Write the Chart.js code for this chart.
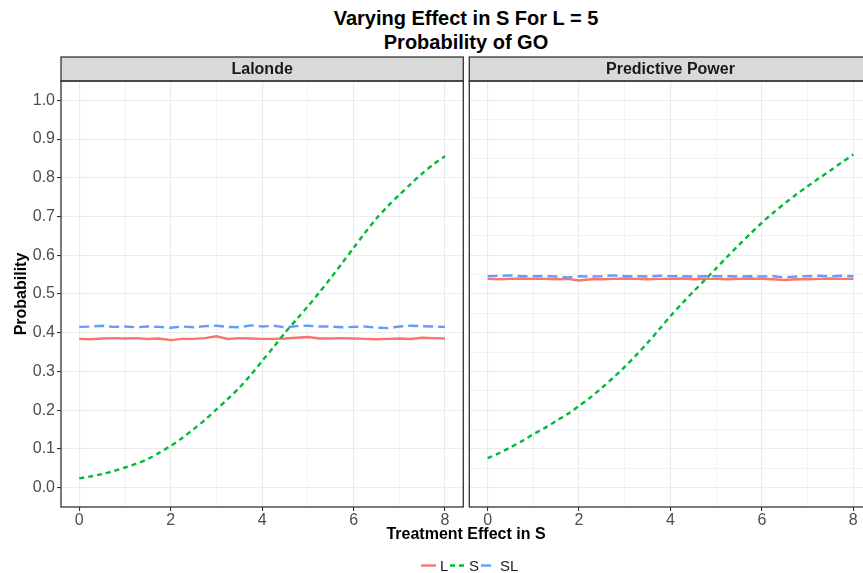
<!DOCTYPE html>
<html>
<head>
<meta charset="utf-8">
<script src="https://cdn.jsdelivr.net/npm/chart.js@4.4.0/dist/chart.umd.min.js"></script>
<style>
  body { margin: 0; background: #fff; }
  #wrap { position: relative; width: 863px; height: 573px; overflow: hidden; font-family: "Liberation Sans", Arial, sans-serif; }
  canvas { position: absolute; top: 0; }
  #left { left: 0; }
  #right { left: 466px; }
  .title { position: absolute; left: 216px; width: 500px; text-align: center; font-weight: bold; font-size: 20px; line-height: 24px; color: #000; }
  .xtitle { position: absolute; left: 316px; width: 300px; top: 524px; text-align: center; font-weight: bold; font-size: 16px; line-height: 20px; color: #000; }
  .ytitle { position: absolute; left: -79px; width: 200px; top: 284px; text-align: center; font-weight: bold; font-size: 16px; line-height: 20px; color: #000; transform: rotate(-90deg); }
  #legend { position: absolute; left: 0; top: 540px; }
</style>
</head>
<body>
<div id="wrap">
  <div class="title" style="top:6px">Varying Effect in S For L = 5</div>
  <div class="title" style="top:30px">Probability of GO</div>
  <canvas id="left" width="470" height="573"></canvas>
  <canvas id="right" width="420" height="573"></canvas>
  <div class="ytitle">Probability</div>
  <div class="xtitle">Treatment Effect in S</div>
  <svg id="legend" width="863" height="33"></svg>
</div>
<script>
// treatment effect grid (x), shared by all series
const xValues = [0, 0.25, 0.5, 0.75, 1, 1.25, 1.5, 1.75, 2, 2.25, 2.5, 2.75, 3, 3.25, 3.5, 3.75,
  4, 4.25, 4.5, 4.75, 5, 5.25, 5.5, 5.75, 6, 6.25, 6.5, 6.75, 7, 7.25, 7.5, 7.75, 8];

// Lalonde panel
const lalondeL = [0.384, 0.383, 0.385, 0.386, 0.385, 0.386, 0.384, 0.385, 0.381, 0.384, 0.384, 0.386,
  0.391, 0.384, 0.386, 0.385, 0.384, 0.384, 0.385, 0.387, 0.389, 0.385, 0.385, 0.386, 0.385, 0.384,
  0.383, 0.384, 0.385, 0.384, 0.387, 0.386, 0.385];
const lalondeS = [0.024, 0.029, 0.035, 0.043, 0.052, 0.062, 0.074, 0.090, 0.108, 0.128, 0.151, 0.175,
  0.202, 0.229, 0.258, 0.291, 0.327, 0.363, 0.400, 0.434, 0.468, 0.504, 0.541, 0.580, 0.619, 0.658,
  0.695, 0.727, 0.756, 0.784, 0.811, 0.835, 0.856];
const lalondeSL = [0.415, 0.416, 0.418, 0.415, 0.416, 0.414, 0.416, 0.415, 0.413, 0.416, 0.414, 0.417,
  0.418, 0.415, 0.414, 0.419, 0.416, 0.418, 0.414, 0.417, 0.418, 0.416, 0.416, 0.414, 0.415, 0.416,
  0.413, 0.412, 0.416, 0.418, 0.417, 0.416, 0.415];

// Predictive Power panel
const powerL = [0.539, 0.538, 0.539, 0.540, 0.539, 0.539, 0.538, 0.539, 0.535, 0.538, 0.538, 0.539,
  0.540, 0.539, 0.538, 0.539, 0.539, 0.540, 0.538, 0.539, 0.539, 0.538, 0.539, 0.540, 0.539, 0.538,
  0.536, 0.538, 0.538, 0.539, 0.540, 0.539, 0.539];
const powerS = [0.076, 0.089, 0.104, 0.120, 0.138, 0.154, 0.172, 0.190, 0.211, 0.233, 0.258, 0.284,
  0.312, 0.342, 0.374, 0.408, 0.443, 0.475, 0.506, 0.536, 0.566, 0.597, 0.627, 0.656, 0.684, 0.710,
  0.734, 0.757, 0.778, 0.799, 0.819, 0.840, 0.860];
const powerSL = [0.546, 0.547, 0.548, 0.546, 0.546, 0.546, 0.545, 0.543, 0.546, 0.545, 0.546, 0.548,
  0.546, 0.546, 0.545, 0.547, 0.546, 0.546, 0.545, 0.546, 0.546, 0.546, 0.545, 0.546, 0.545, 0.546,
  0.543, 0.545, 0.546, 0.547, 0.546, 0.547, 0.546];

const xTickValues = [0, 1, 2, 3, 4, 5, 6, 7, 8];
const yTickValues = [0, 0.05, 0.1, 0.15, 0.2, 0.25, 0.3, 0.35, 0.4, 0.45, 0.5, 0.55, 0.6, 0.65,
  0.7, 0.75, 0.8, 0.85, 0.9, 0.95, 1.0];

const seriesNames = ["L", "S", "SL"];
const seriesColors = ["#F8766D", "#00BA38", "#619CFF"];
const seriesDash = [[], [5, 4], [10, 5]];

const FONT = '"Liberation Sans", Arial, sans-serif';
const STRIP_TOP = 57;

// ggplot-style panel border + facet strip
const panelFrame = {
  id: "panelFrame",
  afterDraw(chart, args, opts) {
    const { ctx, chartArea: a } = chart;
    ctx.save();
    ctx.fillStyle = "#d9d9d9";
    ctx.fillRect(a.left, STRIP_TOP, a.right - a.left, a.top - STRIP_TOP);
    ctx.strokeStyle = "#333333";
    ctx.lineWidth = 1.3;
    ctx.strokeRect(a.left, STRIP_TOP, a.right - a.left, a.top - STRIP_TOP);
    ctx.strokeRect(a.left, a.top, a.right - a.left, a.bottom - a.top);
    ctx.fillStyle = "#1a1a1a";
    ctx.font = "bold 16px " + FONT;
    ctx.textAlign = "center";
    ctx.textBaseline = "middle";
    ctx.fillText(opts.label, (a.left + a.right) / 2, (STRIP_TOP + a.top) / 2 + 1);
    ctx.restore();
  },
};

function gridStyle(major) {
  return {
    color: (c) => (c.index % 2 === 0 ? major.color : "#f1f1f1"),
    lineWidth: (c) => (c.index % 2 === 0 ? 1.1 : 0.9),
    tickColor: (c) => (c.index % 2 === 0 ? "#333333" : "rgba(0,0,0,0)"),
    tickLength: 4,
    tickWidth: 1.1,
  };
}

function makePanel(id, label, values, pad, showY) {
  const datasets = values.map((vals, i) => ({
    label: seriesNames[i],
    data: xValues.map((x, j) => ({ x: x, y: vals[j] })),
    borderColor: seriesColors[i],
    borderDash: seriesDash[i],
    borderWidth: 2.4,
    pointRadius: 0,
    tension: i === 1 ? 0.3 : 0,
    fill: false,
    order: 3 - i,
  }));

  new Chart(document.getElementById(id), {
    type: "line",
    data: { datasets },
    plugins: [panelFrame],
    options: {
      responsive: false,
      animation: false,
      devicePixelRatio: 1,
      layout: { padding: { top: 81, left: pad.left, right: pad.right, bottom: 42 } },
      plugins: {
        legend: { display: false },
        tooltip: { enabled: false },
        panelFrame: { label },
      },
      scales: {
        x: {
          type: "linear",
          min: -0.4,
          max: 8.4,
          afterBuildTicks: (s) => { s.ticks = xTickValues.map((v) => ({ value: v })); },
          afterFit: (s) => { s.height = 24; },
          ticks: {
            autoSkip: false,
            maxRotation: 0,
            padding: 0,
            color: "#4d4d4d",
            font: { size: 16, family: FONT },
            callback: (v) => (v % 2 === 0 ? String(v) : ""),
          },
          grid: gridStyle({ color: "#ebebeb" }),
          border: { display: false },
        },
        y: {
          type: "linear",
          min: -0.05,
          max: 1.05,
          afterBuildTicks: (s) => { s.ticks = yTickValues.map((v) => ({ value: v })); },
          afterFit: (s) => { s.width = showY ? 61 : 0; },
          ticks: {
            display: showY,
            padding: 2,
            color: "#4d4d4d",
            font: { size: 16, family: FONT },
            callback: (v, i) => (i % 2 === 0 ? v.toFixed(1) : ""),
          },
          grid: Object.assign(gridStyle({ color: "#ebebeb" }), { drawTicks: showY }),
          border: { display: false },
        },
      },
    },
  });
}

makePanel("left", "Lalonde", [lalondeL, lalondeS, lalondeSL], { left: 0, right: 6.7 }, true);
makePanel("right", "Predictive Power", [powerL, powerS, powerSL], { left: 3.3, right: 14.4 }, false);

// legend at the bottom
const legendItems = [
  { x1: 421, x2: 436, tx: 440 },
  { x1: 450, x2: 467, tx: 469 },
  { x1: 481, x2: 495, tx: 500 },
];
const svg = document.getElementById("legend");
legendItems.forEach((it, i) => {
  const ns = "http://www.w3.org/2000/svg";
  const ln = document.createElementNS(ns, "line");
  ln.setAttribute("x1", it.x1); ln.setAttribute("x2", it.x2);
  ln.setAttribute("y1", 25.5); ln.setAttribute("y2", 25.5);
  ln.setAttribute("stroke", seriesColors[i]);
  ln.setAttribute("stroke-width", 2.4);
  if (seriesDash[i].length) ln.setAttribute("stroke-dasharray", seriesDash[i].join(" "));
  svg.appendChild(ln);
  const t = document.createElementNS(ns, "text");
  t.setAttribute("x", it.tx); t.setAttribute("y", 25.5);
  t.setAttribute("dominant-baseline", "central");
  t.setAttribute("font-family", "Liberation Sans, Arial, sans-serif");
  t.setAttribute("font-size", 15);
  t.setAttribute("fill", "#1a1a1a");
  t.textContent = seriesNames[i];
  svg.appendChild(t);
});
</script>
</body>
</html>
